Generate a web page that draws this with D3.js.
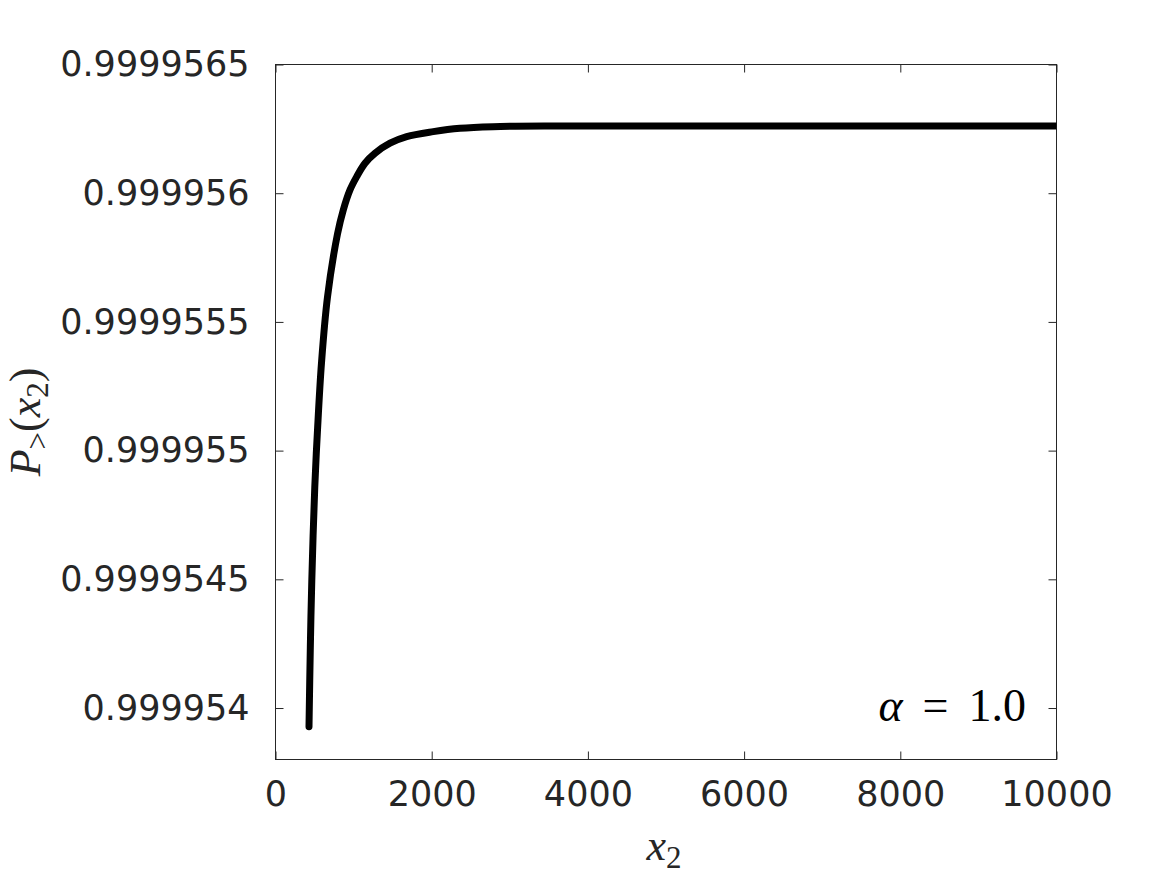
<!DOCTYPE html>
<html><head><meta charset="utf-8">
<script src="https://cdn.jsdelivr.net/npm/d3@7"></script>
<style>
body{margin:0;background:#fff;}
svg{display:block;}
</style></head>
<body>
<svg id="chart" width="1167" height="875"></svg>
<script>
// data
const x2Values = [429, 446, 465, 503, 538, 589, 666, 794, 868, 954, 1040, 1146, 1274, 1466, 1680, 2020, 2362, 2785, 3645, 5000, 7000, 10000];
const pValues = [0.9999539274, 0.9999542381, 0.9999544983, 0.9999548594, 0.9999550808, 0.9999553410, 0.9999555973, 0.9999558420, 0.9999559351, 0.9999560128, 0.9999560645, 0.9999561165, 0.9999561553, 0.9999561942, 0.9999562198, 0.9999562392, 0.9999562524, 0.9999562586, 0.9999562610, 0.9999562614, 0.9999562614, 0.9999562614];
const xTicks = [0, 2000, 4000, 6000, 8000, 10000];
const xTickLabels = ["0", "2000", "4000", "6000", "8000", "10000"];
const yTicks = [0.999954, 0.9999545, 0.999955, 0.9999555, 0.999956, 0.9999565];
const yTickLabels = ["0.999954", "0.9999545", "0.999955", "0.9999555", "0.999956", "0.9999565"];
const xDomain = [0, 10000];
const yDomain = [0.9999538, 0.9999565];

const svg = d3.select("#chart");
const L = 275.5, R = 1056.5, T = 64.5, B = 759.5;
const x = d3.scaleLinear().domain(xDomain).range([L, R]);
const y = d3.scaleLinear().domain(yDomain).range([B, T]);
const axisColor = "#262626";
const tickLen = 8;

// frame
svg.append("rect").attr("x", L).attr("y", T).attr("width", R - L).attr("height", B - T)
  .attr("fill", "none").attr("stroke", axisColor).attr("stroke-width", 1);

function styleAxis(g) {
  g.select(".domain").remove();
  g.selectAll(".tick line").attr("stroke", axisColor).attr("stroke-width", 1);
  g.selectAll(".tick text").attr("fill", axisColor)
    .style("font-family", "'DejaVu Sans', sans-serif").style("font-size", "35px");
}

// bottom
svg.append("g").attr("transform", `translate(0,${B})`)
  .call(d3.axisBottom(x).tickValues(xTicks).tickSizeInner(-tickLen).tickSizeOuter(0).tickPadding(22)
    .tickFormat((d, i) => xTickLabels[i]))
  .call(styleAxis);
// top
svg.append("g").attr("transform", `translate(0,${T})`)
  .call(d3.axisTop(x).tickValues(xTicks).tickSizeInner(-tickLen).tickSizeOuter(0).tickFormat(""))
  .call(styleAxis);
// left
svg.append("g").attr("transform", `translate(${L},0)`)
  .call(d3.axisLeft(y).tickValues(yTicks).tickSizeInner(-tickLen).tickSizeOuter(0).tickPadding(26)
    .tickFormat((d, i) => yTickLabels[i]))
  .call(styleAxis);
// right
svg.append("g").attr("transform", `translate(${R},0)`)
  .call(d3.axisRight(y).tickValues(yTicks).tickSizeInner(-tickLen).tickSizeOuter(0).tickFormat(""))
  .call(styleAxis);

// curve
const data = x2Values.map((v, i) => ({x: v, p: pValues[i]}));
svg.append("clipPath").attr("id", "clip").append("rect")
  .attr("x", L - 10).attr("y", T).attr("width", R - L + 10).attr("height", B - T);
svg.append("path").datum(data)
  .attr("clip-path", "url(#clip)")
  .attr("fill", "none").attr("stroke", "#000").attr("stroke-width", 7)
  .attr("stroke-linecap", "round").attr("stroke-linejoin", "round")
  .attr("d", d3.line().x(d => x(d.x)).y(d => y(d.p)).curve(d3.curveCatmullRom.alpha(0.5)));

const serif = "'Liberation Serif', 'DejaVu Serif', serif";
// x label
const xl = svg.append("text").attr("x", (L + R) / 2 - 2).attr("y", 860)
  .attr("text-anchor", "middle").attr("fill", axisColor)
  .style("font-family", serif).style("font-size", "44px");
xl.append("tspan").style("font-style", "italic").text("x");
xl.append("tspan").attr("dy", 8).style("font-size", "31px").text("2");

// y label
const yl = svg.append("text").attr("transform", `translate(40,${(T + B) / 2 + 10}) rotate(-90)`)
  .attr("text-anchor", "middle").attr("fill", axisColor)
  .style("font-family", serif).style("font-size", "44px");
yl.append("tspan").style("font-style", "italic").text("P");
yl.append("tspan").attr("dy", 8).style("font-size", "31px").text(">");
yl.append("tspan").attr("dy", -8).text("(");
yl.append("tspan").style("font-style", "italic").text("x");
yl.append("tspan").attr("dy", 8).style("font-size", "31px").text("2");
yl.append("tspan").attr("dy", -8).text(")");

// annotation
const ann = svg.append("text").attr("x", 1026).attr("y", 721)
  .attr("text-anchor", "end").attr("fill", "#000")
  .style("font-family", serif).style("font-size", "46px");
ann.append("tspan").style("font-style", "italic").text("α");
ann.append("tspan").attr("dx", 20).text("=");
ann.append("tspan").attr("dx", 20).text("1.0");
</script>
</body></html>
